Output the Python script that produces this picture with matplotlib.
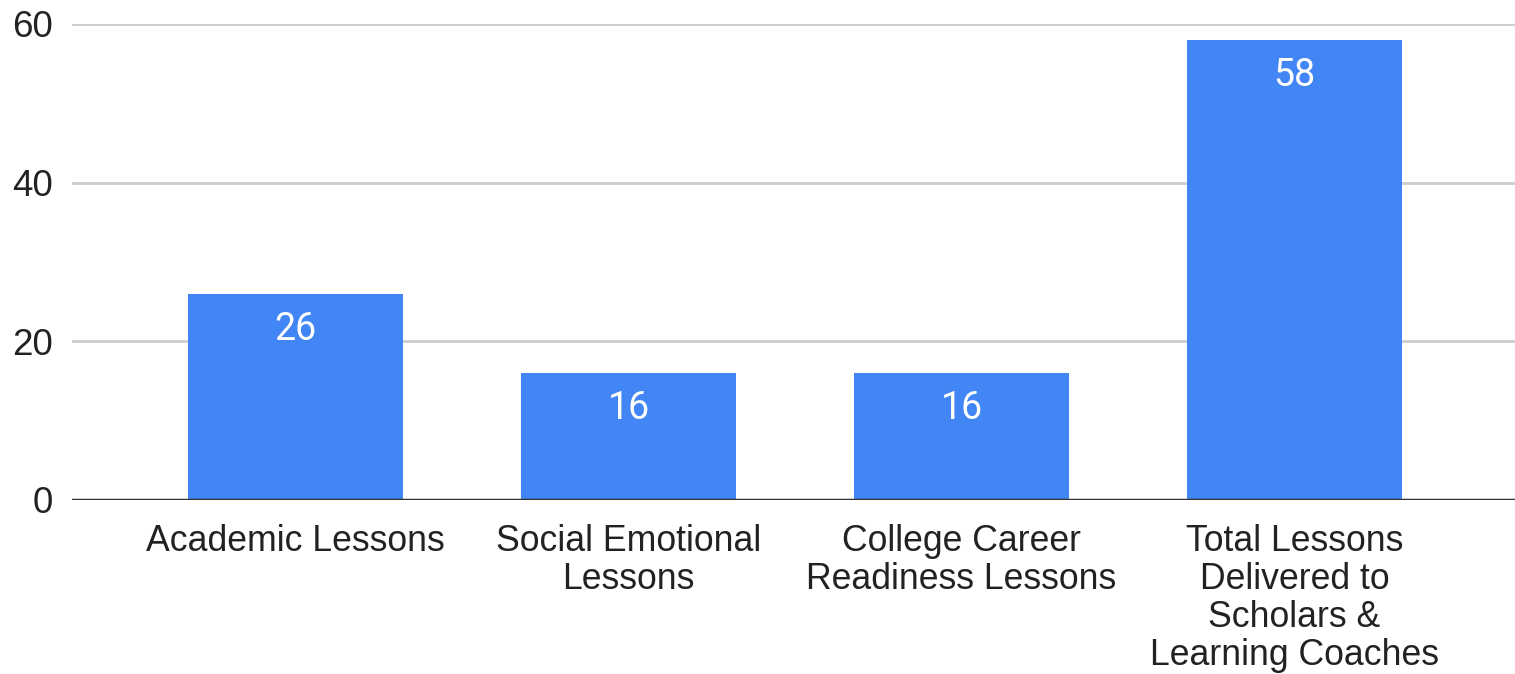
from matplotlib import pyplot as plt
from matplotlib import rcParams
import numpy as np

categories = ['Academic Lessons', 'Social Emotional\nLessons', 'College Career\nReadiness Lessons',
              'Total Lessons\nDelivered to\nScholars &\nLearning Coaches']
values = [26, 16, 16, 58]
yticks = [0, 20, 40, 60]

rcParams["font.family"] = ["Liberation Sans", "DejaVu Sans"]

fig = plt.figure(figsize=(15.15, 6.74), dpi=100)
ax = fig.add_axes([0.0475, 0.2582, 0.9525, 0.9644 - 0.2582])

x = np.arange(len(values))
ax.bar(x, values, width=0.646, color='#4285F4', zorder=3)

for xi, v in zip(x, values):
    ax.text(xi, v - 4.5, str(v), ha='center', va='center', color='white',
            fontsize=27, family=['Roboto', 'DejaVu Sans'], zorder=4)

ax.set_xlim(-0.671, 3.662)
ax.set_ylim(0, 60)
ax.set_yticks(yticks)
ax.set_xticks(x)
ax.set_xticklabels(categories, linespacing=1.12)
ax.tick_params(axis='x', length=0, labelsize=25.7, pad=17, labelcolor='#222222')
ax.tick_params(axis='y', length=0, labelsize=26.5, pad=14, labelcolor='#222222')

ax.grid(axis='y', color='#cccccc', linewidth=2, zorder=0)
ax.axhline(0, color='#333333', linewidth=2.5, zorder=5)
for s in ax.spines.values():
    s.set_visible(False)

plt.savefig('out.png', dpi=100)
